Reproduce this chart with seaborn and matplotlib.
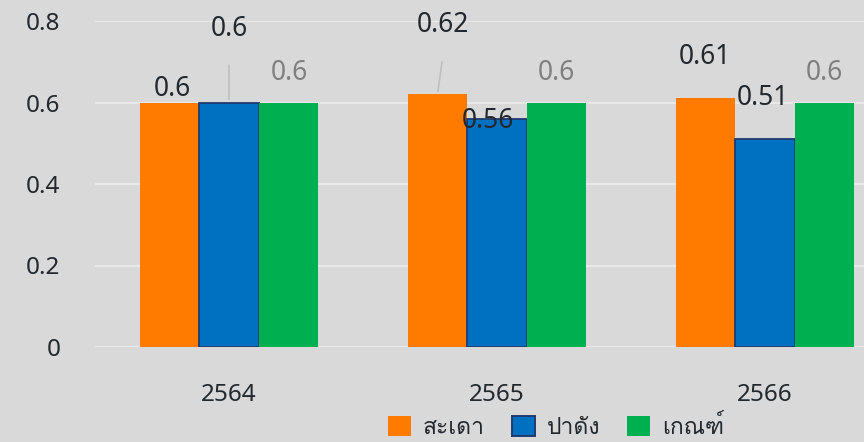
import pandas as pd
import matplotlib
matplotlib.use("Agg")
import matplotlib.pyplot as plt
import seaborn as sns
from matplotlib import font_manager, ft2font
from matplotlib.patches import Patch

# =========================================================
# DATA
# =========================================================
years = ["2564", "2565", "2566"]
sites = ["สะเดา", "ปาดัง", "เกณฑ์"]
sadao = [0.60, 0.62, 0.61]
padang = [0.60, 0.56, 0.51]
kenn = [0.60, 0.60, 0.60]
y_ticks = [0, 0.2, 0.4, 0.6, 0.8]
y_tick_labels = ["0", "0.2", "0.4", "0.6", "0.8"]

df = pd.DataFrame({
    "year": years * 3,
    "site": [sites[0]] * 3 + [sites[1]] * 3 + [sites[2]] * 3,
    "value": sadao + padang + kenn,
})

# =========================================================
# FONT (need something with Thai glyphs)
# =========================================================
def find_thai_font():
    for f in font_manager.fontManager.ttflist:
        try:
            cmap = ft2font.FT2Font(f.fname).get_charmap()
        except Exception:
            continue
        if 0x0E2A in cmap and 0x0E4C in cmap:
            return f.name
    return None

sns.set_theme(style="white")
thai = find_thai_font()
families = ["Noto Sans", "DejaVu Sans"]
if thai:
    families.insert(1, thai)
plt.rcParams["font.family"] = families

BG = "#d9d9d9"
TXT = "#22282d"
colors = {sites[0]: "#ff7b00", sites[1]: "#0070c0", sites[2]: "#00b050"}

# =========================================================
# PLOT
# =========================================================
fig = plt.figure(figsize=(8.64, 4.42), dpi=100, facecolor=BG)
ax = fig.add_axes([95 / 864, 95 / 442, 1 - 95 / 864, (347 - 21) / 442])
ax.set_facecolor(BG)

sns.barplot(
    data=df, x="year", y="value", hue="site",
    palette=colors, saturation=1, width=0.666, gap=0,
    ax=ax, legend=False,
)

for bar in ax.containers[1]:
    bar.set_edgecolor("#1f3a70")
    bar.set_linewidth(1.3)
for c in (ax.containers[0], ax.containers[2]):
    for bar in c:
        bar.set_linewidth(0)

ax.set_ylim(0, 0.8)
ax.set_xlim(-0.5, 2.37)
ax.set_yticks(y_ticks)
ax.set_yticklabels(y_tick_labels)
ax.yaxis.grid(True, color="#ebebeb", linewidth=1.3)
ax.set_axisbelow(True)
for s in ax.spines.values():
    s.set_visible(False)
ax.tick_params(axis="y", length=0, pad=25, labelsize=17.5, labelcolor=TXT)
ax.tick_params(axis="x", length=0, pad=26, labelsize=17.5, labelcolor=TXT)
ax.set_xlabel("")
ax.set_ylabel("")

# data labels (pixel offsets from the bar top centre)
offsets = [
    [(3, 14), (0, 73), (1, 29)],       # 2564
    [(6, 69), (-9, -2), (0, 29)],      # 2565
    [(0, 41), (-2, 41), (0, 29)],      # 2566
]
series = [sadao, padang, kenn]
for si, cont in enumerate(ax.containers):
    for gi, bar in enumerate(cont):
        v = series[si][gi]
        dx, dy = offsets[gi][si]
        gray = si == 2
        ax.annotate(
            f"{v:g}",
            xy=(bar.get_x() + bar.get_width() / 2, bar.get_height()),
            xytext=(dx, dy), textcoords="offset pixels",
            ha="center", va="center",
            fontsize=19,
            color="#7f7f7f" if gray else TXT,
            annotation_clip=False,
        )

# leader lines
b = ax.containers[1][0]
ax.annotate("", xy=(b.get_x() + b.get_width() / 2, b.get_height()),
            xytext=(0, 40), textcoords="offset pixels",
            arrowprops=dict(arrowstyle="-", color="#bfbfbf", lw=1.2))
b = ax.containers[0][1]
ax.annotate("", xy=(b.get_x() + b.get_width() / 2, b.get_height()),
            xytext=(5, 35), textcoords="offset pixels",
            arrowprops=dict(arrowstyle="-", color="#bfbfbf", lw=1.2))

handles = [
    Patch(facecolor=colors[sites[0]], edgecolor="none"),
    Patch(facecolor=colors[sites[1]], edgecolor="#1f3a70", linewidth=1.4),
    Patch(facecolor=colors[sites[2]], edgecolor="none"),
]
leg = fig.legend(
    handles, sites, loc="center", bbox_to_anchor=(556 / 864, 1 - 428 / 442),
    ncol=3, frameon=False, fontsize=16.5, handlelength=1.0, handleheight=1.0,
    handletextpad=0.5, columnspacing=1.2, labelcolor=TXT,
)

fig.savefig("out.png", dpi=100, facecolor=BG)
